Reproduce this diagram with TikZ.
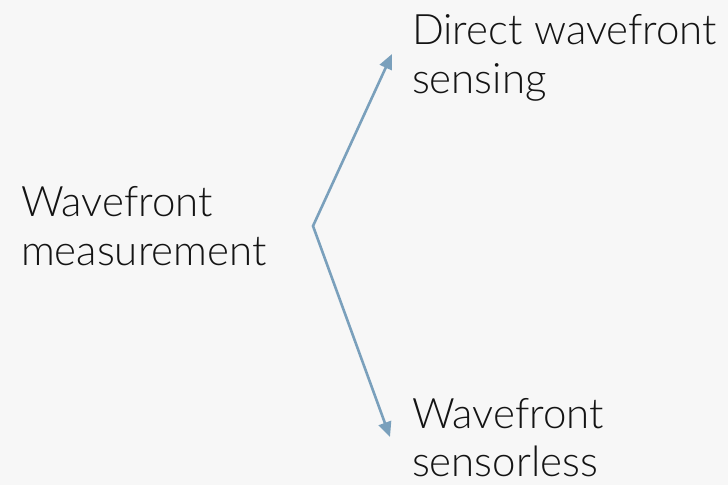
\documentclass[tikz,border=0pt]{standalone}
\usepackage{fontspec}
\setmainfont{Lato Light}
\usetikzlibrary{arrows.meta}
\definecolor{bg}{HTML}{F7F7F7}
\definecolor{conn}{HTML}{7AA0BC}
\definecolor{ink}{HTML}{141414}
\tikzset{
  lbl/.style={inner sep=0pt, outer sep=0pt, align=left, anchor=base west, text=ink, font=\fontsize{42}{48.5}\selectfont},
  link/.style={draw=conn, line width=2.6pt, line join=miter,
    {Triangle[length=15pt,width=13pt]}-{Triangle[length=15pt,width=13pt]}}
}
\begin{document}
\begin{tikzpicture}[x=1pt,y=1pt]
\fill[bg] (0,0) rectangle (728,485);
\useasboundingbox (0,0) rectangle (728,485);
\node[lbl] (src) at (21,268) {Wavefront};
\node[lbl] (srcb) at (21,219.5) {measurement};
\node[lbl] (top) at (412,440) {Direct wavefront};
\node[lbl] (topb) at (412,391.5) {sensing};
\node[lbl] (bot) at (412,57) {Wavefront};
\node[lbl] (botb) at (412,8.5) {sensorless};
\coordinate (v) at (313,259);
\coordinate (t1) at (392,431);
\coordinate (t2) at (390,48);
\draw[link] (t1) -- (v) -- (t2);
\end{tikzpicture}
\end{document}
